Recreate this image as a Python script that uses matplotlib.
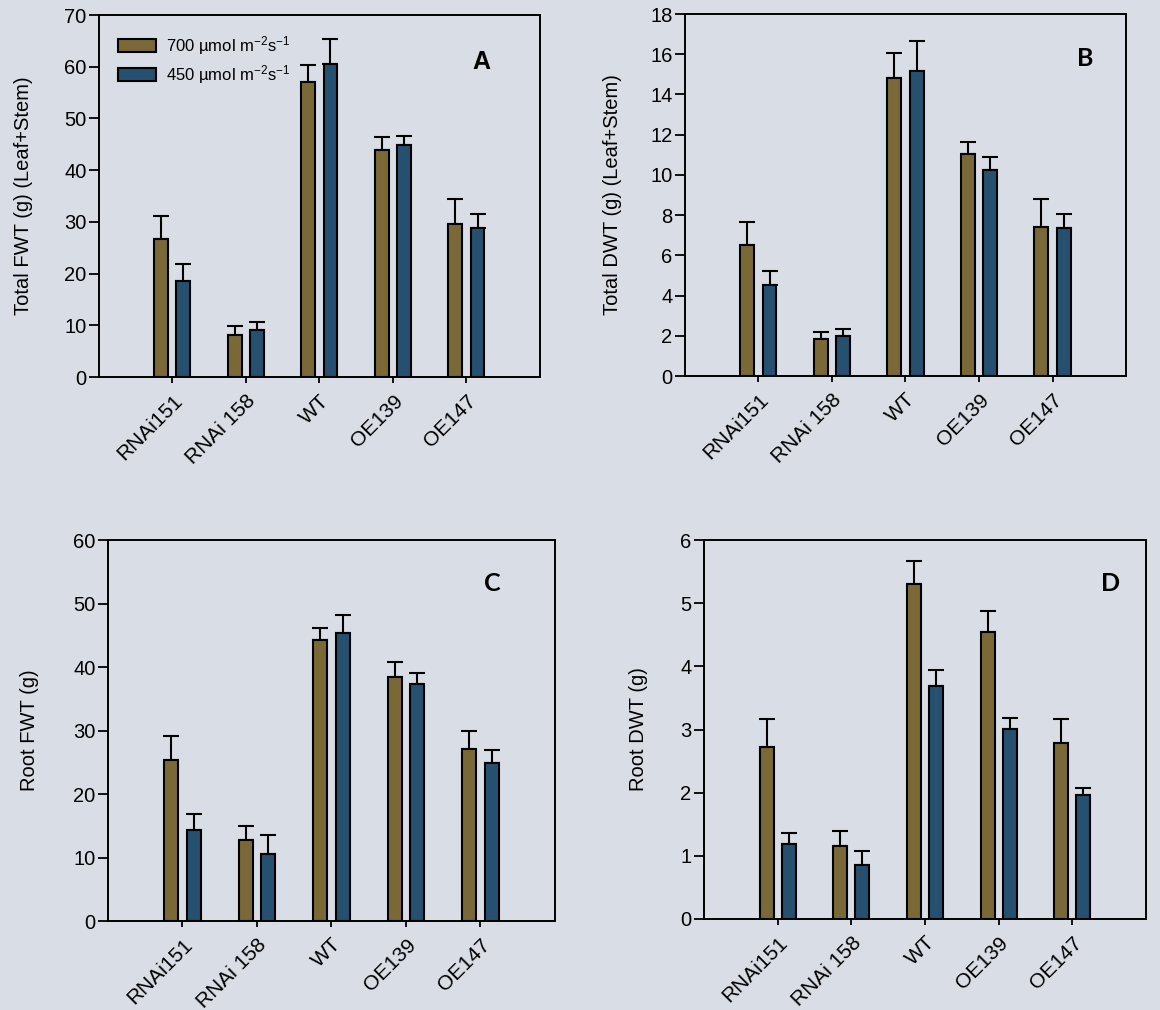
import matplotlib
matplotlib.use("Agg")
import matplotlib.pyplot as plt
import numpy as np

plt.rcParams['font.family'] = ['Liberation Sans', 'DejaVu Sans']
plt.rcParams['mathtext.fontset'] = 'custom'
plt.rcParams['mathtext.rm'] = 'Liberation Sans'
plt.rcParams['mathtext.it'] = 'Liberation Sans'
plt.rcParams['mathtext.default'] = 'regular'

lines = ["RNAi151", "RNAi 158", "WT", "OE139", "OE147"]
series_labels = ["700 \u00b5mol m$^{-2}$s$^{-1}$", "450 \u00b5mol m$^{-2}$s$^{-1}$"]

# Panel A: total fresh weight (leaf + stem)
fwt_shoot_700 = [26.7, 8.2, 57.1, 44.0, 29.6]
fwt_shoot_700_top = [31.2, 9.9, 60.3, 46.4, 34.5]
fwt_shoot_450 = [18.5, 9.0, 60.5, 44.8, 28.8]
fwt_shoot_450_top = [21.8, 10.6, 65.3, 46.6, 31.5]

# Panel B: total dry weight (leaf + stem)
dwt_shoot_700 = [6.51, 1.83, 14.82, 11.05, 7.39]
dwt_shoot_700_top = [7.67, 2.19, 16.06, 11.66, 8.80]
dwt_shoot_450 = [4.53, 1.99, 15.18, 10.25, 7.34]
dwt_shoot_450_top = [5.22, 2.36, 16.68, 10.90, 8.06]

# Panel C: root fresh weight
fwt_root_700 = [25.4, 12.7, 44.2, 38.4, 27.1]
fwt_root_700_top = [29.1, 14.9, 46.1, 40.8, 29.9]
fwt_root_450 = [14.3, 10.5, 45.3, 37.4, 24.9]
fwt_root_450_top = [16.9, 13.6, 48.2, 39.0, 26.9]

# Panel D: root dry weight
dwt_root_700 = [2.72, 1.15, 5.31, 4.55, 2.78]
dwt_root_700_top = [3.16, 1.40, 5.67, 4.87, 3.17]
dwt_root_450 = [1.19, 0.85, 3.69, 3.01, 1.96]
dwt_root_450_top = [1.36, 1.08, 3.95, 3.18, 2.08]

bg = "#d9dde5"
c700 = "#7a6936"
c450 = "#25506f"

fig = plt.figure(figsize=(11.6, 10.1), dpi=100, facecolor=bg)

panels = [
    dict(rect=[0.0853, 0.6267, 0.3802, 0.3584], a=fwt_shoot_700, at=fwt_shoot_700_top,
         b=fwt_shoot_450, bt=fwt_shoot_450_top, ymax=70, step=10,
         ylabel="Total FWT (g) (Leaf+Stem)", ylab_x=-0.150,
         letter="A", letter_pos=(0.868, 0.87), letter_font="Liberation Sans", legend=True),
    dict(rect=[0.5905, 0.6277, 0.3802, 0.3584], a=dwt_shoot_700, at=dwt_shoot_700_top,
         b=dwt_shoot_450, bt=dwt_shoot_450_top, ymax=18, step=2,
         ylabel="Total DWT (g) (Leaf+Stem)", ylab_x=-0.143,
         letter="B", letter_pos=(0.907, 0.878), letter_font="Lato", legend=False),
    dict(rect=[0.0931, 0.0881, 0.3853, 0.3772], a=fwt_root_700, at=fwt_root_700_top,
         b=fwt_root_450, bt=fwt_root_450_top, ymax=60, step=10,
         ylabel="Root FWT (g)", ylab_x=-0.154,
         letter="C", letter_pos=(0.859, 0.887), letter_font="Lato", legend=False),
    dict(rect=[0.6069, 0.0901, 0.3810, 0.3752], a=dwt_root_700, at=dwt_root_700_top,
         b=dwt_root_450, bt=dwt_root_450_top, ymax=6, step=1,
         ylabel="Root DWT (g)", ylab_x=-0.127,
         letter="D", letter_pos=(0.92, 0.886), letter_font="Lato", legend=False),
]

x = np.arange(1, len(lines) + 1)
w = 0.19
off = 0.15

for p in panels:
    ax = fig.add_axes(p["rect"])
    ax.set_facecolor(bg)
    a = np.array(p["a"]); at = np.array(p["at"])
    b = np.array(p["b"]); bt = np.array(p["bt"])
    ax.bar(x - off, a, w, color=c700, edgecolor="black", linewidth=1.5,
           label=series_labels[0], zorder=2)
    ax.bar(x + off, b, w, color=c450, edgecolor="black", linewidth=1.5,
           label=series_labels[1], zorder=2)
    ax.errorbar(x - off, a, yerr=[np.zeros_like(a), at - a], fmt="none",
                ecolor="black", elinewidth=1.5, capsize=5.5, capthick=1.5, zorder=1)
    ax.errorbar(x + off, b, yerr=[np.zeros_like(b), bt - b], fmt="none",
                ecolor="black", elinewidth=1.5, capsize=5.5, capthick=1.5, zorder=1)
    ax.set_xlim(0, 6)
    ax.set_ylim(0, p["ymax"])
    ax.set_yticks(np.arange(0, p["ymax"] + p["step"] / 2, p["step"]))
    ax.set_xticks(x)
    ax.set_xticklabels(lines, rotation=45, ha="right", rotation_mode="anchor",
                       fontsize=15)
    ax.tick_params(axis="y", direction="out", length=7, width=1.3, labelsize=14.5, pad=2)
    ax.tick_params(axis="x", direction="out", length=4, width=1.3, pad=6)
    ax.tick_params(top=False, right=False)
    for s in ax.spines.values():
        s.set_linewidth(1.4)
    ax.set_ylabel(p["ylabel"], fontsize=14.5)
    ax.yaxis.set_label_coords(p["ylab_x"], 0.5)
    ax.text(p["letter_pos"][0], p["letter_pos"][1], p["letter"], transform=ax.transAxes,
            fontsize=18, fontweight="bold", family=p["letter_font"],
            ha="center", va="center")
    if p["legend"]:
        leg = ax.legend(loc="upper left", bbox_to_anchor=(0.02, 0.975), frameon=False,
                        fontsize=12, handlelength=2.3, handleheight=0.8,
                        handletextpad=0.6, borderaxespad=0.2, labelspacing=0.35)

fig.savefig("out.png", dpi=100, facecolor=bg)
